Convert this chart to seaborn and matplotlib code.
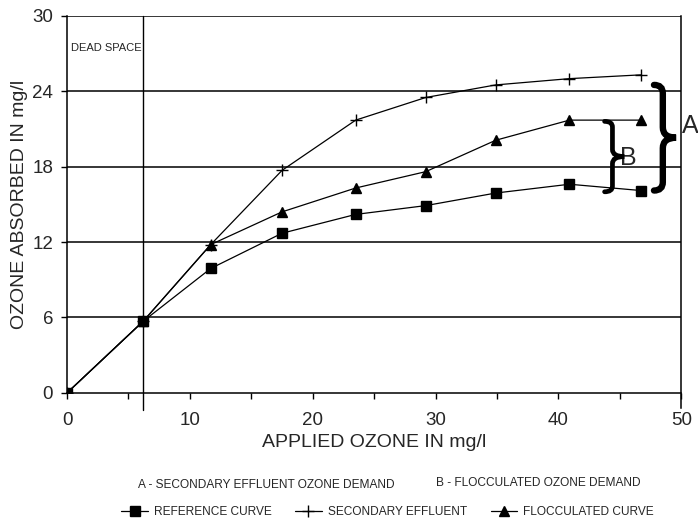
import numpy as np
import pandas as pd
import matplotlib
matplotlib.use("Agg")
import matplotlib.pyplot as plt
import seaborn as sns
from matplotlib.path import Path
from matplotlib.patches import PathPatch

# ---- data ----
applied = [0, 6.2, 11.7, 17.5, 23.5, 29.2, 34.9, 40.9, 46.7]
reference = [0, 5.7, 9.9, 12.7, 14.2, 14.9, 15.9, 16.6, 16.1]
secondary = [0, 5.7, 11.8, 17.7, 21.7, 23.5, 24.5, 25.0, 25.3]
flocculated = [0, 5.7, 11.8, 14.4, 16.3, 17.6, 20.1, 21.7, 21.7]
series_names = ["REFERENCE CURVE", "SECONDARY EFFLUENT", "FLOCCULATED CURVE"]
x_ticks = [0, 10, 20, 30, 40, 50]
y_ticks = [0, 6, 12, 18, 24, 30]
dead_space_x = 6.2

series_values = [reference, secondary, flocculated]
series_markers = ["s", "+", "^"]
series_msize = [7, 8, 7]

sns.set_theme(style="white")
plt.rcParams["font.family"] = ["Liberation Sans", "DejaVu Sans"]

fig = plt.figure(figsize=(6.98, 5.26), dpi=100)
ax = fig.add_axes([0.096, 0.253, 0.880, 0.717])

for name, vals, mk, ms in zip(series_names, series_values, series_markers, series_msize):
    d = pd.DataFrame({"x": applied, "y": vals})
    sns.lineplot(data=d, x="x", y="y", color="black", marker=mk, markersize=ms,
                 markeredgewidth=1.0, markeredgecolor="black", linewidth=0.9,
                 label=name, ax=ax, sort=False, zorder=3)

ax.set_xlim(0, 50)
ax.set_ylim(0, 30)
ax.set_xticks(x_ticks)
ax.set_xticks([5, 15, 25, 35, 45], minor=True)
ax.set_yticks(y_ticks)
ax.tick_params(axis="x", which="both", direction="out", length=4, width=1,
               color="black", pad=10, labelsize=13.5, bottom=True)
ax.tick_params(axis="y", direction="out", length=4, width=1, color="black",
               pad=6, labelsize=13.5, left=True)
for s in ["left", "right", "bottom"]:
    ax.spines[s].set_color("black")
    ax.spines[s].set_linewidth(1.1)
ax.spines["top"].set_visible(False)
for yv in y_ticks[1:]:
    ax.axhline(yv, color="black", linewidth=1.1, zorder=1)
ax.axvline(dead_space_x, ymin=-0.045, ymax=1, color="black", linewidth=1.0,
           clip_on=False, zorder=1)
ax.spines["right"].set_bounds(-1.2, 30)

ax.set_xlabel("APPLIED OZONE IN mg/l", fontsize=14, labelpad=3)
ax.set_ylabel("OZONE ABSORBED IN mg/l", fontsize=14, labelpad=3)
ax.text(0.3, 27.4, "DEAD SPACE", fontsize=8, va="center", ha="left")


def brace(ax, x, y0, y1, w, lw):
    ym = (y0 + y1) / 2
    verts = [(x - w * 0.4, y1), (x, y1), (x, y1 - (y1 - y0) * 0.08),
             (x, ym + (y1 - y0) * 0.1), (x, ym), (x + w * 0.6, ym),
             (x, ym), (x, ym - (y1 - y0) * 0.1),
             (x, y0 + (y1 - y0) * 0.08), (x, y0), (x - w * 0.4, y0)]
    codes = [Path.MOVETO, Path.CURVE3, Path.CURVE3, Path.LINETO, Path.CURVE3, Path.CURVE3,
             Path.CURVE3, Path.CURVE3, Path.LINETO, Path.CURVE3, Path.CURVE3]
    ax.add_patch(PathPatch(Path(verts, codes), fill=False, lw=lw, color="black",
                           clip_on=False, capstyle="round", zorder=5))


brace(ax, 44.4, reference[-1] - 0.1, flocculated[-1] - 0.1, 1.6, 3.4)
ax.text(45.7, (reference[-1] + flocculated[-1]) / 2 - 0.2, "B", fontsize=18,
        ha="center", va="center")
brace(ax, 48.5, reference[-1], secondary[-1] - 0.8, 1.8, 4.6)
ax.text(50.7, (reference[-1] + secondary[-1] - 0.8) / 2 + 0.9, "A", fontsize=18,
        ha="center", va="center", clip_on=False)

handles, labels = ax.get_legend_handles_labels()
ax.get_legend().remove()
fig.legend(handles, labels, loc="center", bbox_to_anchor=(0.555, 0.027), ncol=3,
           frameon=False, fontsize=8.6, handlelength=2.2, columnspacing=2.0,
           handletextpad=0.5)
fig.text(0.381, 0.078, "A - SECONDARY EFFLUENT OZONE DEMAND", fontsize=8.6,
         ha="center", va="center")
fig.text(0.771, 0.082, "B - FLOCCULATED OZONE DEMAND", fontsize=8.6,
         ha="center", va="center")

fig.savefig("out.png", dpi=100)
